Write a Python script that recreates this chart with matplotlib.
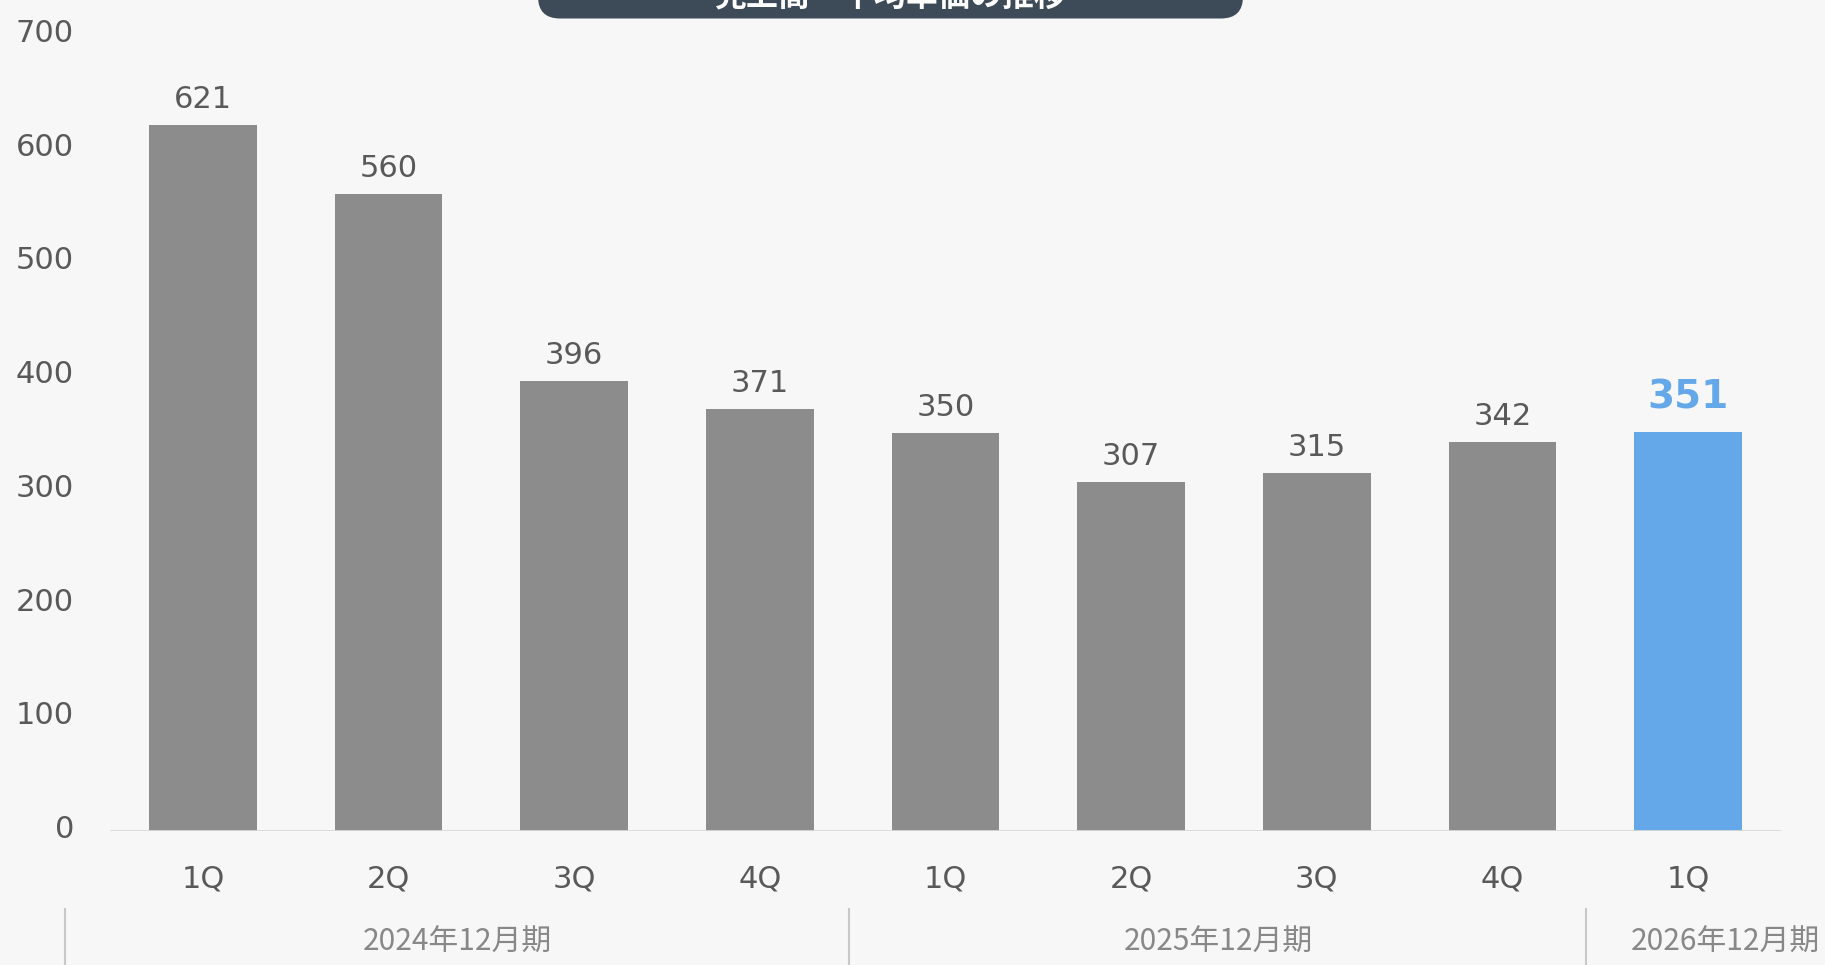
"""Bar chart: quarterly values, 2024-2026 fiscal years."""

import matplotlib.pyplot as plt
from matplotlib.patches import FancyBboxPatch
from matplotlib.transforms import ScaledTranslation, blended_transform_factory

plt.rcParams["font.family"] = ["DejaVu Sans", "Noto Sans CJK JP"]

# data
quarters = ["1Q", "2Q", "3Q", "4Q", "1Q", "2Q", "3Q", "4Q", "1Q"]
values = [621, 560, 396, 371, 350, 307, 315, 342, 351]
periods = ["2024年12月期", "2025年12月期", "2026年12月期"]
period_centers = [1.37, 5.47, 8.2]
period_edges = [-0.74, 3.48, 7.45]
title = "売上高・平均単価の推移"

GRAY = "#8c8c8c"
BLUE = "#64a8ea"
TEXT = "#595959"
BG = "#f7f7f7"

fig = plt.figure(figsize=(18.25, 9.65), dpi=100, facecolor=BG)
ax = fig.add_axes([0.0603, 0.1389, 0.9156, 0.8249], facecolor=BG)

x = list(range(len(values)))
colors = [GRAY] * (len(values) - 1) + [BLUE]
ax.bar(x, values, width=0.58, color=colors, zorder=2)

for i, v in enumerate(values):
    if i == len(values) - 1:
        ax.annotate(str(v), (i, v), xytext=(0, 11), textcoords="offset points",
                    ha="center", va="bottom", fontsize=28, fontweight="bold",
                    color=BLUE)
    else:
        ax.annotate(str(v), (i, v), xytext=(0, 8), textcoords="offset points",
                    ha="center", va="bottom", fontsize=22, color=TEXT)

ax.set_xlim(-0.5, 8.5)
ax.set_ylim(0, 700)
ax.set_yticks(range(0, 701, 100))
ax.set_xticks(x)
ax.set_xticklabels(quarters)
ax.tick_params(axis="y", length=0, pad=26, labelsize=22, labelcolor=TEXT)
ax.tick_params(axis="x", length=0, pad=24, labelsize=22, labelcolor=TEXT)
# y labels sit a touch above their ticks in the original
shift = ScaledTranslation(0, 4.5 / 100, fig.dpi_scale_trans)
for lbl in ax.get_yticklabels():
    lbl.set_transform(lbl.get_transform() + shift)
for s in ax.spines.values():
    s.set_visible(False)
ax.axhline(0, color="#d9d9d9", linewidth=2, zorder=3)

# fiscal year group labels + separators
trans = blended_transform_factory(ax.transData, fig.transFigure)
for xe in period_edges:
    ax.plot([xe, xe], [0, 1 - 909 / 965], transform=trans, color="#c8c8c8",
            linewidth=1.5, clip_on=False)
for label, xc in zip(periods, period_centers):
    ax.text(xc, 1 - 942 / 965, label, transform=trans, ha="center",
            va="center", fontsize=21.5, color="#888888",
            family=["Noto Sans CJK JP", "DejaVu Sans"])

# title box (cut off at top)
box = FancyBboxPatch((538, 965 - 18.5), 705, 60,
                     boxstyle="round,pad=0,rounding_size=22",
                     transform=None, facecolor="#3d4a57", edgecolor="none")
fig.patches.append(box)
fig.text(890 / 1825, 1 - 6 / 965, title, ha="center", va="baseline",
         fontsize=23, fontweight="bold", color="white",
         family=["Noto Sans CJK JP", "DejaVu Sans"])

fig.savefig("out.png", dpi=100, facecolor=BG)
plt.close(fig)
